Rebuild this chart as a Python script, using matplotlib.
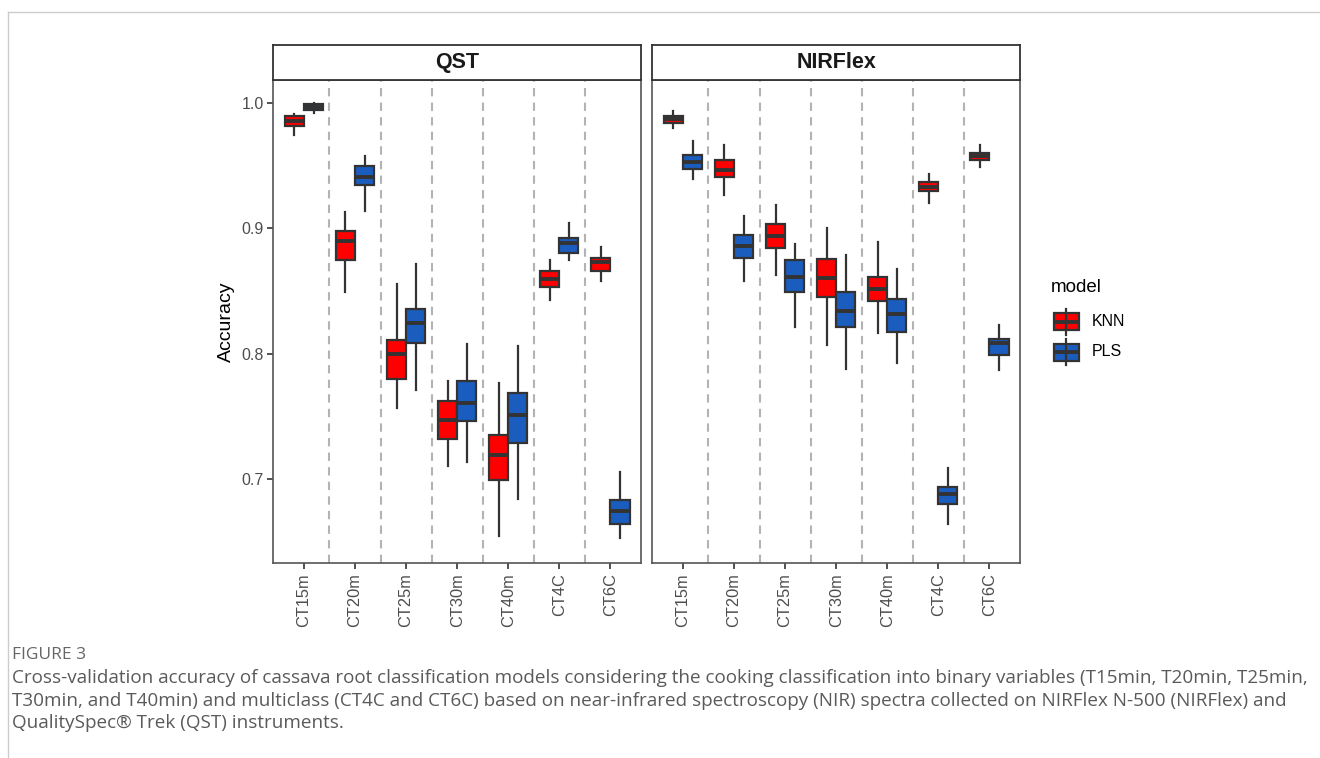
import matplotlib
matplotlib.use("Agg")
import matplotlib.pyplot as plt
from matplotlib.lines import Line2D
from matplotlib.patches import Rectangle

plt.rcParams['font.family'] = ['Liberation Sans', 'DejaVu Sans']

# ---- data -------------------------------------------------------------
categories = ["CT15m", "CT20m", "CT25m", "CT30m", "CT40m", "CT4C", "CT6C"]
panels = ["QST", "NIRFlex"]
models = ["KNN", "PLS"]
model_colors = {"KNN": "#FF0000", "PLS": "#1A5DBF"}

# five-number summaries per category: lower whisker, Q1, median, Q3, upper whisker
qst_knn_lo  = [0.9745, 0.849, 0.757, 0.7105, 0.6544, 0.8433, 0.858]
qst_knn_q1  = [0.9819, 0.875, 0.780, 0.7318, 0.6994, 0.8534, 0.8662]
qst_knn_med = [0.9859, 0.890, 0.800, 0.7476, 0.7190, 0.8593, 0.8729]
qst_knn_q3  = [0.9896, 0.898, 0.8114, 0.7620, 0.7350, 0.8660, 0.8768]
qst_knn_hi  = [0.9910, 0.913, 0.856, 0.7784, 0.7770, 0.8745, 0.885]

qst_pls_lo  = [0.9920, 0.9138, 0.7715, 0.7135, 0.6842, 0.8745, 0.6530]
qst_pls_q1  = [0.9947, 0.9346, 0.8085, 0.7465, 0.7290, 0.8808, 0.6646]
qst_pls_med = [0.9970, 0.9407, 0.8247, 0.7610, 0.7508, 0.8885, 0.6746]
qst_pls_q3  = [0.9990, 0.9500, 0.8356, 0.7787, 0.7690, 0.8920, 0.6832]
qst_pls_hi  = [1.0000, 0.9577, 0.8720, 0.8080, 0.8060, 0.9045, 0.7060]

nir_knn_lo  = [0.9800, 0.9263, 0.8627, 0.8069, 0.8167, 0.9204, 0.9492]
nir_knn_q1  = [0.9838, 0.9412, 0.8840, 0.8454, 0.8420, 0.9295, 0.9545]
nir_knn_med = [0.9875, 0.9470, 0.8939, 0.8606, 0.8516, 0.9332, 0.9575]
nir_knn_q3  = [0.9896, 0.9543, 0.9034, 0.8753, 0.8611, 0.9372, 0.9603]
nir_knn_hi  = [0.9939, 0.9667, 0.9190, 0.9005, 0.8890, 0.9433, 0.9665]

nir_pls_lo  = [0.9391, 0.8577, 0.8215, 0.7875, 0.7923, 0.6646, 0.7869]
nir_pls_q1  = [0.9476, 0.8768, 0.8490, 0.8215, 0.8170, 0.6800, 0.7989]
nir_pls_med = [0.9532, 0.8861, 0.8610, 0.8340, 0.8316, 0.6885, 0.8087]
nir_pls_q3  = [0.9582, 0.8949, 0.8747, 0.8492, 0.8441, 0.6935, 0.8119]
nir_pls_hi  = [0.9697, 0.9096, 0.8875, 0.8787, 0.8675, 0.7093, 0.8228]

summaries = {
    ("QST", "KNN"): (qst_knn_lo, qst_knn_q1, qst_knn_med, qst_knn_q3, qst_knn_hi),
    ("QST", "PLS"): (qst_pls_lo, qst_pls_q1, qst_pls_med, qst_pls_q3, qst_pls_hi),
    ("NIRFlex", "KNN"): (nir_knn_lo, nir_knn_q1, nir_knn_med, nir_knn_q3, nir_knn_hi),
    ("NIRFlex", "PLS"): (nir_pls_lo, nir_pls_q1, nir_pls_med, nir_pls_q3, nir_pls_hi),
}

y_ticks = [0.7, 0.8, 0.9, 1.0]
y_limits = (0.6329, 1.0184)

caption_head = "FIGURE 3"
caption_lines = [
    "Cross-validation accuracy of cassava root classification models considering the cooking classification into binary variables (T15min, T20min, T25min,",
    "T30min, and T40min) and multiclass (CT4C and CT6C) based on near-infrared spectroscopy (NIR) spectra collected on NIRFlex N-500 (NIRFlex) and",
    "QualitySpec\u00ae Trek (QST) instruments.",
]

# ---- layout (pixel helpers) ------------------------------------------
W, H = 1320, 758
fig = plt.figure(figsize=(W / 100, H / 100), dpi=100)


def fx(x):
    return x / W


def fy(y):
    return 1 - y / H


panel_left = [273.3, 652.3]
panel_right = [641.0, 1020.0]
panel_top, panel_bottom = 80.0, 563.3
strip_top = 44.5

EDGE = "#333333"
LW = 1.6
MED_LW = 2.8
dodge = 0.1875
box_w = 0.375

for i, panel in enumerate(panels):
    l, r = panel_left[i], panel_right[i]
    ax = fig.add_axes([fx(l), fy(panel_bottom), (r - l) / W, (panel_bottom - panel_top) / H])
    n = len(categories)
    pos = list(range(1, n + 1))

    # dashed separators between categories
    for k in range(n - 1):
        ax.axvline(k + 1.5, color="#B3B3B3", lw=1.5, ls=(0, (4, 3)), zorder=0)

    for j, model in enumerate(models):
        lo, q1, med, q3, hi = summaries[(panel, model)]
        stats = [dict(whislo=lo[k], q1=q1[k], med=med[k], q3=q3[k], whishi=hi[k], fliers=[])
                 for k in range(n)]
        offs = -dodge if j == 0 else dodge
        ax.bxp(stats, positions=[p + offs for p in pos], widths=box_w,
               patch_artist=True, showfliers=False, showcaps=False,
               boxprops=dict(facecolor=model_colors[model], edgecolor=EDGE, linewidth=LW),
               medianprops=dict(color=EDGE, linewidth=MED_LW, solid_capstyle="butt"),
               whiskerprops=dict(color=EDGE, linewidth=LW),
               manage_ticks=False, zorder=3)

    ax.set_xlim(0.4, n + 0.6)
    ax.set_ylim(*y_limits)
    ax.set_xticks(pos)
    ax.set_xticklabels(categories, rotation=90)
    ax.set_yticks(y_ticks)
    if i == 0:
        ax.set_yticklabels([f"{t:.1f}" for t in y_ticks])
        ax.tick_params(axis="y", direction="out", length=4, width=1.2, color=EDGE,
                       labelsize=11.5, labelcolor="#4D4D4D", pad=3)
    else:
        ax.tick_params(axis="y", left=False, labelleft=False)
    ax.tick_params(axis="x", direction="out", length=4, width=1.2, color=EDGE,
                   labelsize=11.8, labelcolor="#4D4D4D", pad=3)
    for s in ax.spines.values():
        s.set_color("#555555")
        s.set_linewidth(1.2)

    # facet strip
    sax = fig.add_axes([fx(l), fy(panel_top), (r - l) / W, (panel_top - strip_top) / H])
    sax.set_xticks([])
    sax.set_yticks([])
    sax.set_facecolor("white")
    for s in sax.spines.values():
        s.set_color(EDGE)
        s.set_linewidth(1.3)
    sax.text(0.5, 0.5, panel, ha="center", va="center", fontsize=15.5,
             fontweight="bold", color="#1A1A1A", transform=sax.transAxes)

# y axis title
fig.text(fx(226), fy(322), "Accuracy", rotation=90, ha="center", va="center",
         fontsize=14, color="black")

# ---- legend -----------------------------------------------------------
fig.text(fx(1051), fy(287), "model", ha="left", va="center", fontsize=13.5, color="black")
key_rows = [321.5, 352.0]
for model, yc in zip(models, key_rows):
    x0, x1 = 1053.5, 1079.0
    xm = (x0 + x1) / 2
    fig.add_artist(Line2D([fx(xm), fx(xm)], [fy(yc - 13), fy(yc + 13)], color=EDGE, lw=LW))
    fig.add_artist(Rectangle((fx(x0), fy(yc + 8.5)), (x1 - x0) / W, 17 / H,
                             facecolor=model_colors[model], edgecolor=EDGE, lw=LW))
    fig.add_artist(Line2D([fx(x0), fx(x1)], [fy(yc), fy(yc)], color=EDGE, lw=MED_LW,
                          solid_capstyle="butt"))
    fig.text(fx(1092), fy(yc), model, ha="left", va="center", fontsize=11.5, color="black")

# ---- frame and caption -------------------------------------------------
fig.add_artist(Line2D([fx(7.5), 1.0], [fy(11.5), fy(11.5)], color="#CCCCCC", lw=1.0))
fig.add_artist(Line2D([fx(7.5), fx(7.5)], [fy(11.5), 0.0], color="#CCCCCC", lw=1.0))

cap_font = ["Open Sans", "DejaVu Sans"]
fig.text(fx(12), fy(655), caption_head, ha="left", va="center", fontsize=12.5,
         color="#666666", family=cap_font)
for k, line in enumerate(caption_lines):
    fig.text(fx(12), fy(678 + 22.5 * k), line, ha="left", va="center", fontsize=13.6,
             color="#5A5A5A", family=cap_font)

fig.savefig("out.png", dpi=100, facecolor="white")
